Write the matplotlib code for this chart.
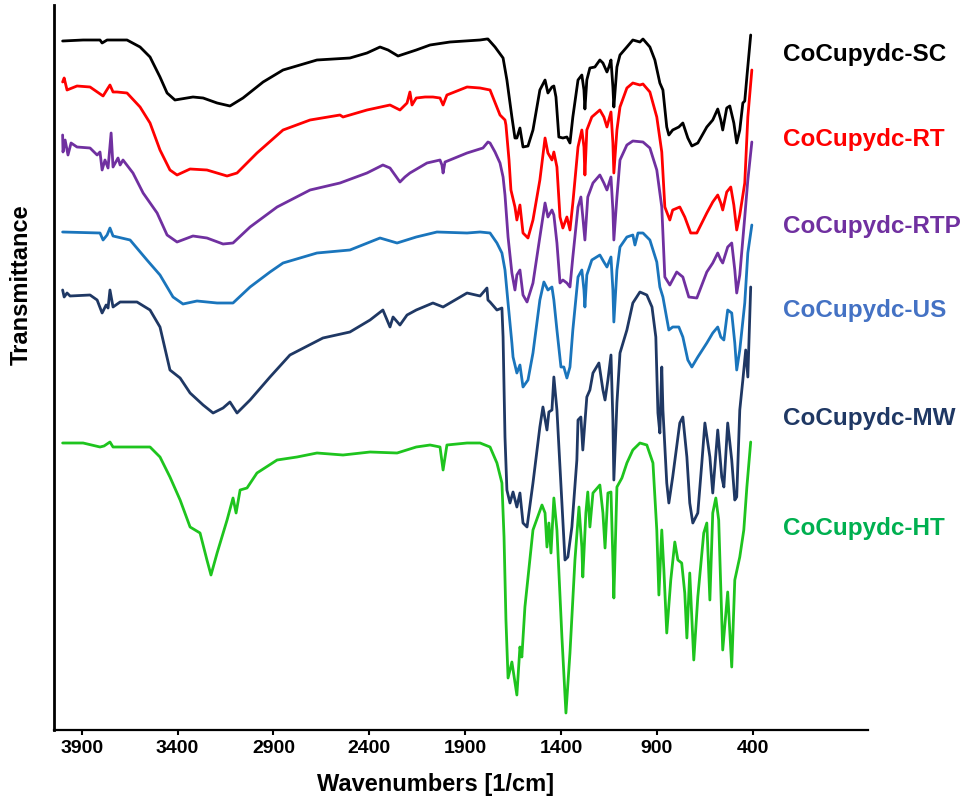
import matplotlib
matplotlib.use("Agg")
import matplotlib.pyplot as plt

plt.rcParams['font.family'] = ['Liberation Sans', 'DejaVu Sans']

# FTIR spectra, stacked (arbitrary transmittance units, offsets included)
sc_wn = [4000, 3893, 3805, 3794, 3768, 3664, 3596, 3544, 3492, 3455, 3414, 3320, 3267, 3194, 3127,
         3059, 2954, 2850, 2673, 2501, 2412, 2344, 2302, 2250, 2155, 2083, 1979, 1822, 1786, 1781,
         1744, 1702, 1682, 1656, 1640, 1630, 1614, 1598, 1572, 1546, 1510, 1483, 1468, 1447, 1437,
         1426, 1411, 1390, 1369, 1353, 1338, 1311, 1291, 1280, 1275, 1265, 1249, 1223, 1197, 1181,
         1160, 1150, 1139, 1129, 1124, 1108, 1092, 1056, 1025, 988, 972, 936, 910, 884, 868, 848,
         837, 817, 785, 764, 738, 717, 686, 639, 608, 582, 566, 556, 535, 519, 498, 483, 467, 451,
         441, 430, 410]
sc_t = [68.9, 69.0, 69.0, 68.7, 69.0, 69.0, 68.3, 67.3, 65.3, 63.7, 63.0, 63.3, 63.2, 62.7, 62.4,
        63.2, 64.8, 66.0, 67.0, 67.2, 67.7, 68.3, 68.0, 67.4, 68.0, 68.5, 68.8, 69.0, 69.1, 69.1,
        68.3, 67.2, 65.0, 61.3, 59.2, 59.2, 60.2, 58.3, 58.4, 60.0, 64.0, 65.0, 63.7, 64.3, 64.4,
        63.3, 59.3, 59.2, 59.3, 58.7, 61.3, 65.0, 65.5, 64.0, 62.1, 65.0, 66.2, 66.3, 67.0, 66.7,
        65.8, 66.3, 67.0, 64.3, 62.3, 66.3, 67.5, 68.3, 69.0, 68.8, 69.1, 68.3, 67.0, 64.7, 64.0, 60.3,
        59.5, 60.0, 60.3, 60.7, 59.2, 58.4, 58.7, 60.3, 61.0, 62.1, 61.0, 60.0, 62.2, 62.4, 60.7, 58.7, 60.0, 62.7,
        62.9, 65.3, 69.5]

rt_wn = [4000, 3992, 3977, 3925, 3857, 3789, 3763, 3753, 3737, 3716, 3664, 3596, 3544, 3492, 3440,
         3403, 3335, 3247, 3142, 3090, 2986, 2850, 2709, 2553, 2537, 2412, 2292, 2240, 2203, 2188,
         2177, 2155, 2109, 2068, 2031, 2015, 1995, 1890, 1822, 1770, 1718, 1692, 1687, 1671, 1661,
         1640, 1630, 1614, 1598, 1572, 1546, 1510, 1483, 1468, 1447, 1437, 1421, 1405, 1390, 1369,
         1353, 1338, 1311, 1291, 1280, 1275, 1265, 1239, 1197, 1176, 1160, 1139, 1129, 1124, 1108,
         1092, 1056, 1025, 988, 972, 936, 900, 874, 858, 832, 817, 780, 754, 723, 691, 639, 608,
         582, 566, 556, 535, 514, 498, 483, 467, 441, 425, 404]
rt_t = [64.8, 65.2, 64.0, 64.4, 64.3, 63.4, 64.2, 64.5, 63.8, 63.8, 63.7, 62.3, 60.7, 58.0, 56.0,
        55.5, 56.1, 56.0, 55.4, 55.7, 57.7, 60.0, 61.0, 61.5, 61.3, 62.0, 62.5, 62.0, 62.7, 63.8,
        62.5, 63.2, 63.3, 63.3, 63.2, 62.5, 63.5, 64.3, 64.2, 64.0, 61.5, 61.0, 60.5, 57.0, 54.0,
        52.3, 51.0, 52.5, 49.7, 49.2, 51.0, 55.0, 59.2, 57.7, 57.0, 57.8, 56.3, 51.3, 50.2, 51.3,
        50.0, 52.7, 58.3, 60.0, 58.3, 55.5, 60.0, 61.3, 62.0, 61.3, 60.3, 61.8, 58.7, 55.7, 60.0,
        62.3, 64.2, 64.7, 64.5, 64.6, 63.8, 61.3, 57.8, 52.3, 51.0, 52.0, 52.3, 51.3, 49.7, 49.7, 51.7, 52.8,
        53.5, 52.7, 52.0, 53.8, 54.3, 52.5, 50.0, 51.5, 54.7, 61.3, 66.0]

rtp_wn = [4000, 3998, 3987, 3972, 3956, 3925, 3857, 3820, 3805, 3794, 3779, 3763, 3747, 3737, 3711,
          3700, 3685, 3633, 3580, 3507, 3455, 3403, 3320, 3247, 3163, 3111, 3022, 2881, 2709, 2553,
          2412, 2329, 2292, 2240, 2214, 2188, 2099, 2031, 2021, 2015, 2005, 1890, 1807, 1781, 1770,
          1744, 1718, 1702, 1692, 1676, 1656, 1640, 1630, 1614, 1598, 1577, 1546, 1510, 1483, 1468,
          1447, 1437, 1421, 1405, 1390, 1369, 1353, 1338, 1311, 1296, 1286, 1275, 1260, 1233, 1197,
          1176, 1160, 1139, 1129, 1124, 1108, 1092, 1056, 1025, 972, 936, 900, 874, 858, 832, 796,
          764, 733, 691, 639, 608, 582, 566, 556, 530, 509, 493, 483, 467, 441, 425, 404]
rtp_t = [59.5, 57.8, 59.0, 57.5, 58.7, 58.3, 58.2, 57.5, 57.8, 56.0, 57.0, 56.2, 59.7, 56.3, 57.2,
         56.5, 57.0, 55.7, 53.7, 51.7, 49.5, 48.8, 49.4, 49.2, 48.6, 48.7, 50.3, 52.3, 54.0, 54.7,
         55.7, 56.5, 56.2, 54.8, 55.3, 55.7, 56.7, 57.0, 56.5, 55.7, 56.8, 57.7, 58.2, 58.8, 58.7,
         57.8, 56.7, 55.3, 53.5, 49.3, 45.7, 44.0, 45.5, 46.0, 43.5, 42.8, 44.7, 49.3, 52.7, 51.3,
         52.0, 51.5, 48.7, 44.7, 45.0, 44.7, 44.3, 47.3, 52.3, 53.3, 51.3, 49.0, 53.3, 54.7, 55.5,
         54.7, 54.0, 55.3, 52.0, 49.0, 53.3, 57.0, 58.5, 58.9, 58.8, 58.2, 56.0, 52.3, 45.3, 44.5, 45.8,
         45.3, 43.3, 43.2, 45.8, 46.7, 47.7, 47.0, 46.7, 48.3, 48.7, 46.0, 43.7, 45.5, 51.3, 55.0, 58.8]

us_wn = [4000, 3805, 3789, 3768, 3753, 3737, 3648, 3560, 3492, 3424, 3372, 3299, 3194, 3111, 3022,
         2918, 2850, 2673, 2501, 2344, 2255, 2155, 2047, 1890, 1822, 1770, 1734, 1708, 1692, 1676,
         1656, 1650, 1630, 1614, 1598, 1572, 1546, 1510, 1489, 1468, 1447, 1437, 1421, 1400, 1385,
         1369, 1353, 1338, 1311, 1291, 1280, 1275, 1265, 1239, 1197, 1176, 1160, 1139, 1129, 1124,
         1108, 1092, 1056, 1025, 1014, 998, 972, 936, 900, 884, 868, 853, 837, 817, 785, 764, 738,
         717, 686, 639, 608, 582, 566, 550, 530, 509, 493, 483, 467, 441, 425, 404]
us_t = [49.8, 49.7, 49.0, 49.5, 50.2, 49.4, 49.0, 47.0, 45.5, 43.3, 42.6, 42.9, 42.7, 42.7, 44.3,
        45.8, 46.7, 47.7, 48.0, 49.2, 48.7, 49.3, 49.8, 49.7, 49.8, 49.7, 48.7, 47.7, 46.0, 42.7,
        38.7, 37.3, 35.7, 36.5, 34.3, 35.0, 37.7, 43.0, 44.8, 44.0, 44.3, 43.0, 40.0, 36.3, 36.3,
        35.2, 36.3, 40.0, 45.3, 46.0, 44.0, 42.3, 45.5, 47.0, 47.5, 46.8, 46.3, 47.3, 44.0, 40.8,
        46.0, 48.3, 49.3, 49.5, 48.5, 49.7, 49.7, 49.0, 46.8, 44.3, 43.3, 41.7, 40.0, 40.3, 40.3, 39.3, 37.0,
        36.3, 37.3, 38.7, 39.7, 40.3, 39.3, 39.0, 42.0, 41.7, 38.7, 36.0, 38.0, 42.7, 47.7, 50.5]

mw_wn = [4000, 3992, 3977, 3961, 3857, 3820, 3794, 3773, 3763, 3753, 3737, 3700, 3612, 3544, 3492,
         3440, 3387, 3335, 3267, 3215, 3163, 3127, 3090, 3022, 2918, 2814, 2642, 2501, 2396, 2329,
         2292, 2276, 2240, 2203, 2155, 2068, 2015, 1890, 1822, 1786, 1781, 1770, 1734, 1708, 1702,
         1692, 1682, 1666, 1650, 1630, 1614, 1598, 1577, 1546, 1510, 1494, 1473, 1463, 1447, 1437,
         1421, 1395, 1379, 1364, 1343, 1317, 1311, 1296, 1286, 1265, 1249, 1233, 1202, 1181, 1170,
         1155, 1139, 1129, 1124, 1108, 1092, 1056, 1025, 988, 952, 925, 905, 894, 884, 874, 868,
         848, 837, 817, 780, 764, 743, 728, 712, 686, 665, 649, 623, 608, 582, 561, 550, 530, 509,
         493, 483, 467, 451, 436, 425, 410]
mw_t = [44.0, 43.3, 43.7, 43.4, 43.5, 43.0, 41.7, 42.5, 42.2, 44.0, 42.3, 42.8, 42.8, 42.0, 40.3,
        36.0, 35.2, 33.7, 32.5, 31.7, 32.2, 32.8, 31.7, 33.0, 35.3, 37.5, 39.2, 39.8, 41.0, 42.0,
        40.3, 41.3, 40.5, 41.5, 42.0, 42.7, 42.3, 43.7, 43.4, 44.2, 43.0, 42.8, 42.0, 42.2, 39.3,
        29.3, 24.0, 22.7, 23.8, 22.3, 23.7, 20.7, 20.3, 24.7, 30.3, 32.3, 30.0, 31.8, 32.0, 35.3,
        32.0, 22.7, 17.0, 17.3, 20.3, 27.0, 31.0, 31.3, 28.0, 33.3, 34.0, 35.7, 36.7, 34.0, 33.0,
        35.0, 37.5, 31.0, 25.0, 32.7, 37.7, 40.0, 42.7, 43.8, 43.5, 42.3, 39.3, 31.7, 29.7, 36.3, 32.0,
        24.7, 22.7, 25.3, 30.7, 31.3, 27.3, 22.7, 20.7, 21.7, 26.7, 30.7, 27.3, 23.7, 30.0, 25.3, 24.3, 30.7, 27.0,
        23.0, 23.3, 32.0, 35.0, 38.0, 35.3, 44.3]

ht_wn = [4000, 3893, 3805, 3784, 3753, 3737, 3544, 3492, 3440, 3387, 3335, 3283, 3247, 3226, 3194,
         3142, 3111, 3095, 3074, 3038, 2986, 2881, 2777, 2673, 2537, 2396, 2255, 2155, 2083, 2031,
         2015, 1995, 1890, 1822, 1770, 1734, 1708, 1697, 1687, 1676, 1656, 1630, 1614, 1604, 1588,
         1546, 1499, 1483, 1473, 1463, 1452, 1437, 1421, 1395, 1374, 1353, 1327, 1306, 1291, 1286,
         1270, 1260, 1249, 1233, 1197, 1181, 1170, 1155, 1139, 1129, 1124, 1108, 1082, 1056, 1025,
         988, 952, 920, 900, 889, 874, 863, 848, 827, 806, 790, 770, 754, 743, 728, 707, 686, 655,
         639, 623, 608, 592, 577, 556, 530, 509, 493, 467, 446, 430, 410]
ht_t = [28.7, 28.7, 28.3, 28.4, 28.8, 28.3, 28.3, 27.3, 25.3, 23.0, 20.3, 19.7, 17.0, 15.5, 17.7,
        21.0, 23.2, 21.7, 24.0, 24.2, 25.7, 27.0, 27.3, 27.7, 27.5, 27.8, 27.7, 28.3, 28.5, 28.3,
        26.0, 28.5, 28.7, 28.7, 28.3, 26.7, 24.7, 19.3, 11.0, 5.2, 6.8, 3.5, 8.3, 7.3, 12.3,
        20.0, 22.5, 21.7, 18.3, 20.7, 17.7, 23.2, 20.0, 9.3, 1.7, 7.7, 17.0, 22.3, 18.3, 15.3,
        21.7, 23.8, 20.3, 23.7, 24.5, 21.7, 18.2, 23.7, 23.8, 17.0, 13.2, 24.3, 25.2, 26.7, 28.0,
        28.7, 28.5, 26.7, 20.0, 13.5, 20.0, 16.0, 9.7, 15.0, 18.8, 17.0, 16.7, 13.7, 9.2, 15.7, 7.0, 13.3, 19.7,
        20.7, 13.0, 21.7, 23.2, 21.0, 8.0, 13.8, 6.3, 15.0, 17.3, 20.0, 24.3, 28.8]

sample_names = ["CoCupydc-SC", "CoCupydc-RT", "CoCupydc-RTP",
                "CoCupydc-US", "CoCupydc-MW", "CoCupydc-HT"]
line_colors = ["#000000", "#FF0000", "#7030A0", "#1A75BC", "#1F3864", "#1EC41E"]
name_colors = ["#000000", "#FF0000", "#7030A0", "#4472C4", "#1F3864", "#00B050"]
name_levels = [66.9, 58.4, 49.7, 41.3, 30.5, 19.5]

x_ticks = [3900, 3400, 2900, 2400, 1900, 1400, 900, 400]

spectra = [(sc_wn, sc_t), (rt_wn, rt_t), (rtp_wn, rtp_t),
           (us_wn, us_t), (mw_wn, mw_t), (ht_wn, ht_t)]

fig = plt.figure(figsize=(9.70, 8.05), dpi=100)
ax = fig.add_axes([54 / 970, 75 / 805, 814 / 970, 725 / 805])

for (wn, t), color in zip(spectra, line_colors):
    ax.plot(wn, t, color=color, lw=2.0, solid_joinstyle="round", solid_capstyle="round")

for name, color, level in zip(sample_names, name_colors, name_levels):
    ax.text(242, level, name, color=color, fontsize=17.5, fontweight="bold",
            ha="left", va="baseline")

ax.set_xlim(4045, -202)
ax.set_ylim(0, 72.5)
ax.set_xticks(x_ticks)
ax.set_xticklabels([str(v) for v in x_ticks], fontsize=14, fontweight="bold")
ax.set_yticks([])
ax.tick_params(axis="x", direction="out", length=3.5, width=1.5, pad=3.5)

for side in ("top", "right"):
    ax.spines[side].set_visible(False)
ax.spines["left"].set_linewidth(2.0)
ax.spines["bottom"].set_linewidth(1.6)

fig.text(436 / 970, 1 - 784 / 805, "Wavenumbers [1/cm]", fontsize=17, fontweight="bold",
         ha="center", va="center")
fig.text(21 / 970, 1 - 285 / 805, "Transmittance", fontsize=17, fontweight="bold",
         ha="center", va="center", rotation=90)

fig.savefig("out.png", dpi=100)
